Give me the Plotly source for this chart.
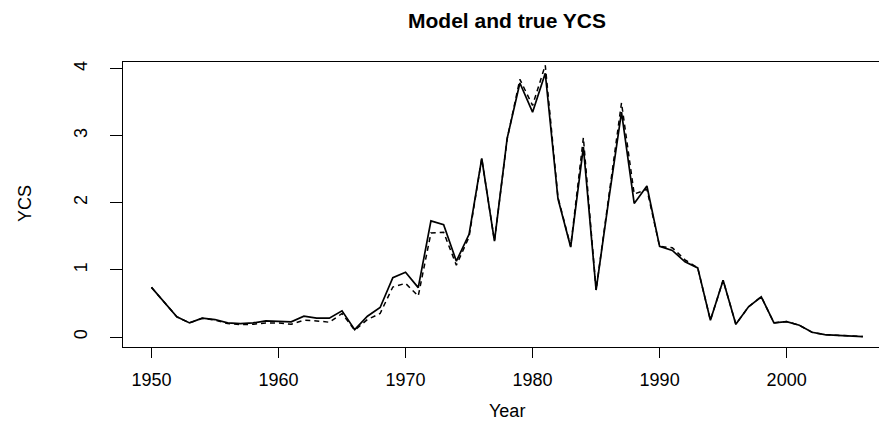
import plotly.graph_objects as go

years = list(range(1950, 2007))
model_ycs = [0.74, 0.52, 0.30, 0.21, 0.28, 0.26, 0.21, 0.20, 0.21, 0.24,
             0.23, 0.225, 0.31, 0.28, 0.28, 0.39, 0.11, 0.31, 0.44, 0.885,
             0.964, 0.736, 1.73, 1.675, 1.13, 1.53, 2.66, 1.43, 2.96, 3.785,
             3.35, 3.93, 2.06, 1.34, 2.83, 0.70, 2.05, 3.35, 1.99, 2.25,
             1.35, 1.29, 1.12, 1.03, 0.25, 0.845, 0.19, 0.45, 0.60, 0.21,
             0.23, 0.175, 0.07, 0.035, 0.025, 0.02, 0.007]
true_ycs = [0.74, 0.52, 0.30, 0.21, 0.28, 0.25, 0.20, 0.185, 0.19, 0.21,
            0.21, 0.19, 0.25, 0.24, 0.22, 0.35, 0.10, 0.26, 0.35, 0.745,
            0.80, 0.61, 1.55, 1.56, 1.07, 1.49, 2.66, 1.43, 2.95, 3.84,
            3.45, 4.05, 2.08, 1.35, 2.97, 0.70, 2.08, 3.49, 2.13, 2.20,
            1.35, 1.33, 1.15, 1.03, 0.25, 0.845, 0.19, 0.45, 0.60, 0.21,
            0.23, 0.175, 0.07, 0.035, 0.025, 0.02, 0.007]
x_ticks = [1950, 1960, 1970, 1980, 1990, 2000]
y_ticks = [0, 1, 2, 3, 4]

FONT = "Liberation Sans, Arial, Helvetica, sans-serif"

ML, MR, MT, MB = 123, 0, 62, 82
W, H = 879, 429
plot_w = W - ML - MR
plot_h = H - MT - MB


def px_to_paper(px, py):
    return (px - ML) / plot_w, ((H - py) - MB) / plot_h


fig = go.Figure()
fig.add_trace(go.Scatter(x=years, y=model_ycs, mode="lines",
                         line=dict(color="black", width=1.7), showlegend=False))
fig.add_trace(go.Scatter(x=years, y=true_ycs, mode="lines",
                         line=dict(color="black", width=1.5, dash="5px,4px"),
                         showlegend=False))

yx, yy = px_to_paper(507, 411)
cx, cy = px_to_paper(25, 204)

fig.update_layout(
    template="none",
    width=W, height=H,
    margin=dict(l=ML, r=MR, t=MT, b=MB, autoexpand=False),
    paper_bgcolor="white", plot_bgcolor="white",
    font=dict(family=FONT, color="black"),
    title=dict(text="<b>Model and true YCS</b>", x=507 / W, xanchor="center",
               y=1 - 21 / H, yanchor="middle", yref="container",
               font=dict(size=21, family=FONT, color="black")),
    xaxis=dict(range=[1947.76, 2007.27], tickvals=x_ticks,
               ticktext=[str(v) for v in x_ticks], automargin=False,
               showgrid=False, zeroline=False, showline=True, mirror=True,
               linecolor="black", linewidth=1.2, ticks="outside", ticklen=10,
               tickwidth=1.2, tickcolor="black", ticklabelstandoff=6,
               tickfont=dict(size=18, family=FONT, color="black")),
    yaxis=dict(range=[-0.149, 4.098], tickvals=y_ticks,
               ticktext=[str(v) for v in y_ticks], tickangle=-90,
               automargin=False,
               showgrid=False, zeroline=False, showline=True, mirror=False,
               linecolor="black", linewidth=1.2, ticks="outside", ticklen=12,
               tickwidth=1.2, tickcolor="black", ticklabelstandoff=16,
               tickfont=dict(size=18, family=FONT, color="black")),
    annotations=[
        dict(text="Year", x=yx, y=yy, xref="paper", yref="paper",
             xanchor="center", yanchor="middle", showarrow=False,
             font=dict(size=18, family=FONT, color="black")),
        dict(text="YCS", x=cx, y=cy, xref="paper", yref="paper",
             xanchor="center", yanchor="middle", showarrow=False,
             textangle=-90,
             font=dict(size=18, family=FONT, color="black")),
    ],
)

fig.write_html("out.html",
               config={"displayModeBar": False},
               post_script="document.body.style.margin='0';"
                           "document.body.style.overflow='hidden';")
